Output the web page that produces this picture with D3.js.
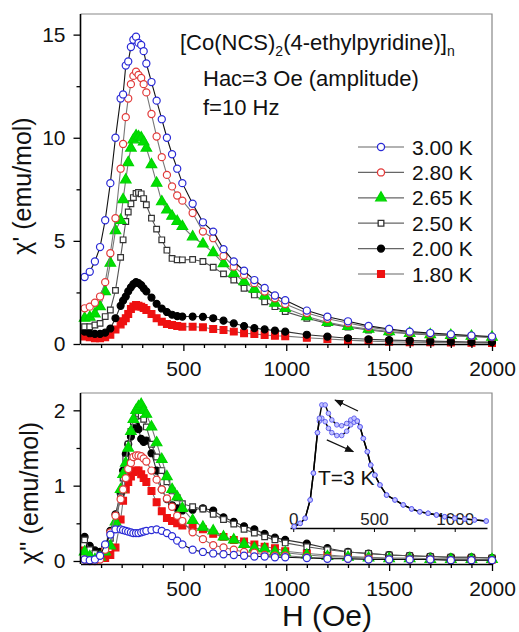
<!DOCTYPE html>
<html>
<head>
<meta charset="utf-8">
<script src="https://cdn.jsdelivr.net/npm/d3@7"></script>
<style>
body { margin: 0; background: #fff; }
svg { font-family: "Liberation Sans", Arial, sans-serif; }
</style>
</head>
<body>
<svg id="chart" width="519" height="632"></svg>
<script>
// applied field (Oe)
const fieldH = [20, 45, 70, 95, 120, 145, 170, 195, 207, 220, 232, 245, 257, 270, 282, 295, 307, 320, 345, 370,
  395, 420, 445, 470, 495, 545, 595, 645, 695, 745, 795, 845, 895, 945, 995, 1100, 1200, 1300, 1400, 1500,
  1600, 1700, 1800, 1900, 2000];

// chi' (emu/mol)
const chi1_300 = [3.25, 3.5, 4.0, 4.7, 6.0, 7.8, 10.0, 11.9, 12.1, 13.5, 13.7, 14.4, 14.75, 14.9, 14.6, 14.5, 14.2, 13.6, 12.7, 11.8,
  10.9, 10.0, 9.2, 8.5, 7.8, 6.8, 5.9, 5.45, 4.6, 4.0, 3.55, 3.1, 2.72, 2.35, 2.12, 1.62, 1.32, 1.1, 0.88, 0.73,
  0.6, 0.53, 0.47, 0.41, 0.36];
const chi1_280 = [1.73, 1.81, 2.0, 2.3, 3.0, 4.4, 6.1, 8.5, 9.7, 11.0, 11.9, 12.6, 13.0, 13.2, 13.05, 12.9, 12.6, 12.2, 11.15, 10.06,
  9.06, 8.2, 7.64, 7.2, 6.95, 6.35, 5.45, 5.13, 4.27, 3.75, 3.35, 2.95, 2.54, 2.22, 1.94, 1.5, 1.22, 1.02, 0.82, 0.68,
  0.56, 0.49, 0.44, 0.39, 0.34];
const chi1_265 = [1.25, 1.3, 1.46, 1.81, 2.54, 3.92, 5.5, 6.0, 7.0, 7.96, 8.8, 9.5, 9.9, 10.1, 10.05, 10.0, 9.8, 9.5, 8.7, 7.8,
  6.9, 6.5, 6.2, 5.95, 5.7, 5.2, 4.85, 4.43, 3.9, 3.43, 3.02, 2.66, 2.33, 1.98, 1.73, 1.33, 1.05, 0.86, 0.72, 0.6,
  0.52, 0.46, 0.42, 0.38, 0.33];
const chi1_250 = [0.84, 0.84, 0.92, 1.0, 1.33, 1.65, 2.6, 4.2, 5.05, 5.94, 6.4, 6.8, 7.1, 7.3, 7.35, 7.28, 7.05, 6.75, 6.1, 5.57,
  5.05, 4.55, 4.15, 4.08, 4.08, 4.1, 4.0, 3.72, 3.4, 3.1, 2.7, 2.38, 2.05, 1.81, 1.57, 1.25, 1.0, 0.82, 0.68, 0.57,
  0.5, 0.44, 0.4, 0.36, 0.32];
const chi1_200 = [0.6, 0.52, 0.49, 0.49, 0.55, 0.75, 1.25, 1.85, 2.1, 2.3, 2.55, 2.75, 2.9, 3.0, 2.95, 2.86, 2.7, 2.55, 2.25, 1.95,
  1.72, 1.55, 1.42, 1.35, 1.33, 1.33, 1.32, 1.25, 1.13, 1.0, 0.87, 0.77, 0.71, 0.65, 0.6, 0.45, 0.36, 0.28, 0.23, 0.19,
  0.17, 0.14, 0.12, 0.1, 0.09];
const chi1_180 = [0.36, 0.33, 0.28, 0.28, 0.33, 0.45, 0.7, 0.95, 1.1, 1.25, 1.45, 1.7, 1.82, 1.89, 1.86, 1.81, 1.75, 1.65, 1.46, 1.25,
  1.08, 0.97, 0.92, 0.87, 0.84, 0.84, 0.81, 0.73, 0.68, 0.6, 0.52, 0.49, 0.44, 0.4, 0.38, 0.3, 0.24, 0.19, 0.14, 0.11,
  0.09, 0.08, 0.07, 0.06, 0.05];

// chi'' (emu/mol)
const chi2_300 = [0.02, 0.01, 0.02, 0.07, 0.22, 0.35, 0.42, 0.42, 0.41, 0.4, 0.39, 0.38, 0.37, 0.37, 0.37, 0.38, 0.39, 0.4, 0.41, 0.42,
  0.4, 0.37, 0.33, 0.27, 0.22, 0.15, 0.12, 0.1, 0.09, 0.08, 0.07, 0.06, 0.06, 0.05, 0.05, 0.04, 0.03, 0.03, 0.02, 0.02,
  0.02, 0.02, 0.01, 0.01, 0.01];
const chi2_280 = [0.02, 0.0, 0.0, 0.02, 0.15, 0.38, 0.6, 0.82, 0.95, 1.1, 1.22, 1.3, 1.38, 1.4, 1.4, 1.39, 1.36, 1.32, 1.2, 1.08,
  0.95, 0.83, 0.72, 0.6, 0.53, 0.38, 0.29, 0.21, 0.18, 0.15, 0.12, 0.11, 0.08, 0.07, 0.07, 0.05, 0.04, 0.03, 0.03, 0.02,
  0.02, 0.02, 0.01, 0.01, 0.01];
const chi2_265 = [0.12, 0.06, 0.02, 0.05, 0.12, 0.2, 0.52, 0.95, 1.15, 1.3, 1.5, 1.72, 1.88, 2.0, 2.05, 2.08, 2.0, 1.95, 1.78, 1.57,
  1.35, 1.12, 0.95, 0.85, 0.7, 0.54, 0.45, 0.4, 0.32, 0.28, 0.22, 0.17, 0.16, 0.12, 0.11, 0.08, 0.06, 0.05, 0.04, 0.03,
  0.03, 0.02, 0.02, 0.02, 0.02];
const chi2_250 = [0.28, 0.15, 0.1, 0.08, 0.15, 0.3, 0.5, 0.85, 1.1, 1.35, 1.55, 1.72, 1.85, 1.92, 1.95, 1.93, 1.88, 1.78, 1.55, 1.38,
  1.2, 1.05, 0.93, 0.84, 0.76, 0.72, 0.69, 0.62, 0.55, 0.49, 0.42, 0.37, 0.32, 0.28, 0.24, 0.19, 0.15, 0.12, 0.1, 0.08,
  0.07, 0.06, 0.05, 0.05, 0.04];
const chi2_200 = [0.32, 0.2, 0.14, 0.12, 0.2, 0.4, 0.62, 0.9, 1.2, 1.42, 1.55, 1.65, 1.75, 1.8, 1.75, 1.62, 1.58, 1.6, 1.43, 1.2,
  0.95, 0.82, 0.74, 0.7, 0.67, 0.68, 0.7, 0.67, 0.58, 0.52, 0.46, 0.42, 0.36, 0.31, 0.28, 0.23, 0.17, 0.12, 0.1, 0.08,
  0.07, 0.06, 0.05, 0.05, 0.04];
const chi2_180 = [0.14, 0.1, 0.06, 0.04, 0.04, 0.08, 0.18, 0.55, 0.8, 0.95, 1.05, 1.12, 1.18, 1.2, 1.2, 1.15, 1.1, 1.05, 0.93, 0.78,
  0.66, 0.57, 0.53, 0.5, 0.47, 0.44, 0.42, 0.36, 0.32, 0.28, 0.26, 0.22, 0.19, 0.17, 0.13, 0.1, 0.08, 0.06, 0.05, 0.04,
  0.04, 0.03, 0.03, 0.03, 0.02];

// inset: chi'' at T = 3 K, field sweep down (upper branch) and up (lower branch)
const insetH = [6, 43, 74, 105, 125, 150, 162, 177, 198, 218, 239, 270, 300, 331, 356, 377, 397, 414, 434, 459,
  480, 506, 537, 578, 630, 681, 733, 784, 835, 887, 938, 1000, 1062, 1123, 1195];
const insetDown = [0.005, 0.016, 0.034, 0.097, 0.19, 0.33, 0.38, 0.426, 0.426, 0.397, 0.374, 0.357, 0.354, 0.362, 0.374, 0.38, 0.37, 0.35, 0.31, 0.264,
  0.218, 0.183, 0.149, 0.114, 0.097, 0.08, 0.066, 0.056, 0.051, 0.045, 0.039, 0.034, 0.031, 0.028, 0.024];
const insetUp = [0.005, 0.016, 0.034, 0.097, 0.19, 0.33, 0.37, 0.38, 0.368, 0.345, 0.33, 0.32, 0.32, 0.335, 0.357, 0.366, 0.37, 0.35, 0.31, 0.264,
  0.218, 0.183, 0.149, 0.114, 0.097, 0.08, 0.066, 0.056, 0.051, 0.045, 0.039, 0.034, 0.031, 0.028, 0.024];

const xMajor = [500, 1000, 1500, 2000];
const xMinor = d3.range(100, 2001, 100);
const yTopMajor = [0, 5, 10, 15];
const yTopMinor = [2.5, 7.5, 12.5];
const yBotMajor = [0, 1, 2];
const yBotMinor = [0.5, 1.5];

const series = [
  { label: "3.00 K", top: chi1_300, bot: chi2_300, sym: d3.symbolCircle, size: 40, stroke: "#2a2ad6", fill: "#fff", line: "#111" },
  { label: "2.80 K", top: chi1_280, bot: chi2_280, sym: d3.symbolCircle, size: 40, stroke: "#e23a3a", fill: "#fff", line: "#777" },
  { label: "2.65 K", top: chi1_265, bot: chi2_265, sym: d3.symbolTriangle, size: 48, stroke: "#00d400", fill: "#00e000", line: "#777" },
  { label: "2.50 K", top: chi1_250, bot: chi2_250, sym: d3.symbolSquare, size: 32, stroke: "#333", fill: "#fff", line: "#555" },
  { label: "2.00 K", top: chi1_200, bot: chi2_200, sym: d3.symbolCircle, size: 38, stroke: "#000", fill: "#000", line: "#333" },
  { label: "1.80 K", top: chi1_180, bot: chi2_180, sym: d3.symbolSquare, size: 46, stroke: "#ee1111", fill: "#ee1111", line: "#777" }
];

const svg = d3.select("#chart");
const x = d3.scaleLinear().domain([0, 2000]).range([80.5, 492]);
const yTop = d3.scaleLinear().domain([0, 16]).range([344, 14]);
const yBot = d3.scaleLinear().domain([-0.04, 2.23]).range([564, 393]);

function drawPanel(y, key, yMajor, yMinor) {
  const [y0, y1] = y.range();
  const g = svg.append("g");

  // frame (top and right thin grey)
  g.append("path")
    .attr("d", `M${x.range()[0]},${y1}H${x.range()[1]}V${y0}`)
    .attr("fill", "none").attr("stroke", "#888").attr("stroke-width", 1.2);

  // plot series: lines + markers, lowest temperature first
  const pts = series.slice().reverse();
  pts.forEach(s => {
    const data = fieldH.map((h, i) => [h, s[key][i]]);
    g.append("path")
      .datum(data)
      .attr("fill", "none")
      .attr("stroke", s.line)
      .attr("stroke-width", 1.1)
      .attr("d", d3.line().x(d => x(d[0])).y(d => y(d[1])));
    g.selectAll(null)
      .data(data)
      .enter()
      .append("path")
      .attr("transform", d => `translate(${x(d[0])},${y(d[1])})`)
      .attr("d", d3.symbol().type(s.sym).size(s.size))
      .attr("fill", s.fill)
      .attr("stroke", s.stroke)
      .attr("stroke-width", 1.2);
  });

  // axes
  g.append("g").attr("transform", `translate(0,${y0})`)
    .call(d3.axisBottom(x).tickValues(xMajor).tickSize(7).tickSizeOuter(0).tickPadding(10).tickFormat(d3.format("d")));
  g.append("g").attr("transform", `translate(0,${y0})`)
    .call(d3.axisBottom(x).tickValues(xMinor.filter(v => !xMajor.includes(v))).tickSize(4).tickFormat(""))
    .select(".domain").remove();
  const ya = g.append("g").attr("transform", `translate(${x.range()[0]},0)`)
    .call(d3.axisLeft(y).tickValues(yMajor).tickSize(7).tickSizeOuter(0).tickPadding(8).tickFormat(d3.format("d")));
  g.append("g").attr("transform", `translate(${x.range()[0]},0)`)
    .call(d3.axisLeft(y).tickValues(yMinor).tickSize(4).tickFormat(""))
    .select(".domain").remove();

  g.selectAll(".domain").attr("stroke", "#000").attr("stroke-width", 1.6);
  g.selectAll(".tick line").attr("stroke", "#000").attr("stroke-width", 1.3);
  g.selectAll(".tick text").attr("font-size", 21).attr("fill", "#111")
    .attr("font-family", '"Liberation Sans", Arial, sans-serif');
  ya.selectAll(".domain").attr("d", `M0,${y0}V${y1}`);
  return g;
}

drawPanel(yTop, "top", yTopMajor, yTopMinor);
drawPanel(yBot, "bot", yBotMajor, yBotMinor);

// axis titles
svg.append("text")
  .attr("transform", "translate(31,186) rotate(-90)")
  .attr("text-anchor", "middle").attr("font-size", 25).attr("fill", "#111")
  .text("\u03c7' (emu/mol)");
svg.append("text")
  .attr("transform", "translate(38,493) rotate(-90)")
  .attr("text-anchor", "middle").attr("font-size", 25).attr("fill", "#111")
  .text("\u03c7'' (emu/mol)");
svg.append("text")
  .attr("x", 327).attr("y", 626)
  .attr("text-anchor", "middle").attr("font-size", 30).attr("fill", "#111")
  .text("H (Oe)");

// annotations
const title = svg.append("text").attr("x", 180).attr("y", 50).attr("font-size", 22).attr("fill", "#111");
title.append("tspan").text("[Co(NCS)");
title.append("tspan").attr("font-size", 14).attr("dy", 6).text("2");
title.append("tspan").attr("dy", -6).text("(4-ethylpyridine)]");
title.append("tspan").attr("font-size", 14).attr("dy", 6).text("n");
svg.append("text").attr("x", 203).attr("y", 86).attr("font-size", 22).attr("fill", "#111")
  .text("Hac=3 Oe (amplitude)");
svg.append("text").attr("x", 203).attr("y", 115).attr("font-size", 22).attr("fill", "#111")
  .text("f=10 Hz");

// legend
const legend = svg.append("g");
series.forEach((s, i) => {
  const ly = 147 + i * 25.4;
  legend.append("line").attr("x1", 358).attr("x2", 404).attr("y1", ly).attr("y2", ly)
    .attr("stroke", "#666").attr("stroke-width", 1.2);
  legend.append("path")
    .attr("transform", `translate(381,${ly})`)
    .attr("d", d3.symbol().type(s.sym).size(s.size))
    .attr("fill", s.fill).attr("stroke", s.stroke).attr("stroke-width", 1.3);
  legend.append("text").attr("x", 412).attr("y", ly + 7.5)
    .attr("font-size", 21).attr("fill", "#111").text(s.label);
});

// inset
const xIn = d3.scaleLinear().domain([-20, 1200]).range([290, 487]);
const yIn = d3.scaleLinear().domain([0, 0.45]).range([528, 398]);
const inset = svg.append("g");
const ia = inset.append("g").attr("transform", "translate(0,528)")
  .call(d3.axisBottom(xIn).tickValues([0, 250, 500, 750, 1000]).tickSize(4).tickSizeOuter(0)
    .tickFormat(d => d % 500 === 0 ? d : ""));
ia.select(".domain").attr("stroke", "#000").attr("stroke-width", 1.4);
ia.selectAll(".tick line").attr("stroke", "#000");
ia.selectAll(".tick text").attr("y", -3).attr("dy", 0).attr("font-size", 17).attr("fill", "#222")
  .attr("font-family", '"Liberation Sans", Arial, sans-serif');

[insetUp, insetDown].forEach(vals => {
  const data = insetH.map((h, i) => [h, vals[i]]);
  inset.append("path").datum(data)
    .attr("fill", "none").attr("stroke", "#000").attr("stroke-width", 1.4)
    .attr("d", d3.line().x(d => xIn(d[0])).y(d => yIn(d[1])));
  inset.selectAll(null).data(data).enter().append("circle")
    .attr("cx", d => xIn(d[0])).attr("cy", d => yIn(d[1])).attr("r", 2.3)
    .attr("fill", "#c4c4ff").attr("stroke", "#5a5af0").attr("stroke-width", 0.9);
});

svg.append("defs").append("marker")
  .attr("id", "ah").attr("viewBox", "0 0 10 10").attr("refX", 9).attr("refY", 5)
  .attr("markerWidth", 7).attr("markerHeight", 7).attr("orient", "auto")
  .append("path").attr("d", "M0,1L10,5L0,9z").attr("fill", "#111");
const arrows = [[401, 0.405, 259, 0.443], [208, 0.305, 372, 0.264]];
arrows.forEach(a => {
  inset.append("line")
    .attr("x1", xIn(a[0])).attr("y1", yIn(a[1])).attr("x2", xIn(a[2])).attr("y2", yIn(a[3]))
    .attr("stroke", "#111").attr("stroke-width", 1.3).attr("marker-end", "url(#ah)");
});
inset.append("text").attr("x", 318).attr("y", 485).attr("font-size", 21).attr("fill", "#111").text("T=3 K");
</script>
</body>
</html>
